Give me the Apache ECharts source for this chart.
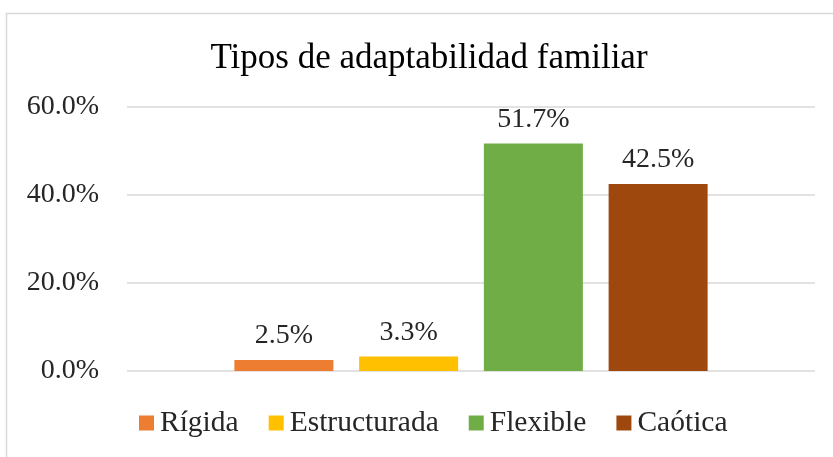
<!DOCTYPE html>
<html><head><meta charset="utf-8">
<script src="https://cdn.jsdelivr.net/npm/echarts@6/dist/echarts.min.js"></script>
<style>html,body{margin:0;padding:0;background:#fff}#c{width:833px;height:457px}</style>
</head><body><div id="c"></div>
<script>
var titleText = 'Tipos de adaptabilidad familiar';
var category = [''];
var seriesNames = ['Rígida', 'Estructurada', 'Flexible', 'Caótica'];
var seriesValues = [2.5, 3.3, 51.7, 42.5];
var seriesColors = ['#ED7D31', '#FFC000', '#70AD47', '#9E480E'];
var yTicks = [0, 20, 40, 60];

var font = '"Liberation Serif", "Times New Roman", serif';
var chart = echarts.init(document.getElementById('c'));
var series = seriesNames.map(function (n, i) {
  return {
    name: n, type: 'bar', data: [seriesValues[i]],
    barWidth: 99, barGap: '26%',
    itemStyle: { color: seriesColors[i] },
    label: { show: true, position: 'top', distance: 10, color: '#262626',
      fontFamily: font, fontSize: 28,
      formatter: function (p) { return p.value.toFixed(1) + '%'; } }
  };
});
chart.setOption({
  animation: false,
  graphic: [{ type: 'rect', shape: { x: 6.5, y: 13.5, width: 840, height: 460 },
    style: { fill: 'none', stroke: '#d9d9d9', lineWidth: 1.5 }, silent: true, z: -10 }],
  title: { text: titleText, left: 424, top: 36, textAlign: 'center',
    textStyle: { fontFamily: font, fontSize: 35, fontWeight: 'normal', color: '#000' } },
  legend: { top: 408, left: 139, itemWidth: 15, itemHeight: 15, itemGap: 30,
    icon: 'rect', padding: 0,
    textStyle: { fontFamily: font, fontSize: 29.5, color: '#262626', padding: [0, 0, 0, 1] },
    data: seriesNames },
  grid: { left: 127, right: 18, top: 107, bottom: 86, containLabel: false },
  xAxis: { type: 'category', data: category, axisLine: { show: false }, axisTick: { show: false },
    axisLabel: { show: false } },
  yAxis: { type: 'value', min: yTicks[0], max: yTicks[yTicks.length - 1], interval: yTicks[1] - yTicks[0],
    axisLine: { show: false }, axisTick: { show: false },
    splitLine: { lineStyle: { color: '#d9d9d9', width: 1.5 } },
    axisLabel: { margin: 28, fontFamily: font, fontSize: 28, color: '#262626',
      formatter: function (v) { return v.toFixed(1) + '%'; } } },
  series: series
});
</script></body></html>
